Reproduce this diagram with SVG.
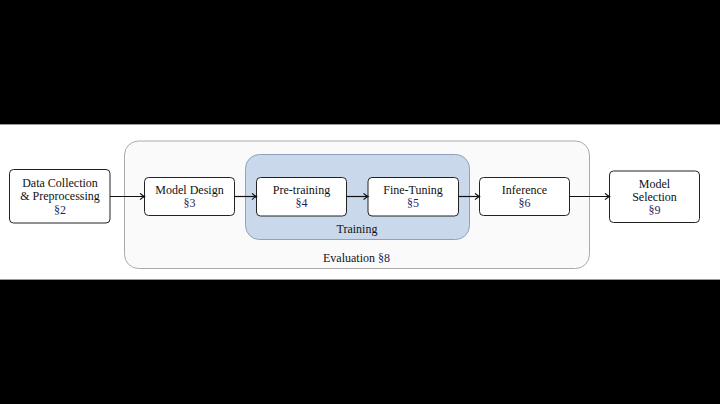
<svg xmlns="http://www.w3.org/2000/svg" width="720" height="404" viewBox="0 0 720 404">
<defs>
<style>
.node{fill:#ffffff;stroke:#222222;stroke-width:1}
.t{font-size:12px;fill:#111111;text-anchor:middle}
.ref{fill:#1f1f5c}
.conn{stroke:#111111;stroke-width:1.2;fill:none}
</style>
<marker id="arr" markerWidth="8" markerHeight="8" refX="6" refY="4" orient="auto" markerUnits="userSpaceOnUse">
<path d="M2,0.8 Q4.5,3.2 6.5,4 Q4.5,4.8 2,7.2" fill="none" stroke="#111111" stroke-width="1.1"/>
</marker>
</defs>
<rect x="0" y="0" width="720" height="404" fill="#000000"/>
<rect x="0" y="124" width="720" height="156" fill="#ffffff"/>
<line x1="0" y1="124.5" x2="720" y2="124.5" stroke="#9a9a9a" stroke-width="1"/>
<line x1="0" y1="279.5" x2="720" y2="279.5" stroke="#9a9a9a" stroke-width="1"/>
<g font-family="'Liberation Serif', 'Times New Roman', 'DejaVu Serif', serif">
<g id="evaluation">
<rect x="124.5" y="141" width="465" height="127.5" rx="14" fill="#fafafa" stroke="#aaaaaa" stroke-width="1"/>
<text class="t" x="356.5" y="262">Evaluation <tspan class="ref">§8</tspan></text>
</g>
<g id="training">
<rect x="245.5" y="154.5" width="224" height="85" rx="14" fill="#c9d9eb" stroke="#8da3bd" stroke-width="1"/>
<text class="t" x="357" y="233">Training</text>
</g>
<g id="data">
<rect class="node" x="9.5" y="169.5" width="100.5" height="53.5" rx="4"/>
<text class="t" x="60" y="187">Data Collection</text>
<text class="t" x="60" y="200.3">&amp; Preprocessing</text>
<text class="t" x="60" y="213.6"><tspan class="ref">§2</tspan></text>
</g>
<g id="design">
<rect class="node" x="144.5" y="177.5" width="90" height="38" rx="4"/>
<text class="t" x="189.5" y="194">Model Design</text>
<text class="t" x="189.5" y="207"><tspan class="ref">§3</tspan></text>
</g>
<g id="pretrain">
<rect class="node" x="256.5" y="177.5" width="90" height="38.5" rx="4"/>
<text class="t" x="301.5" y="194">Pre-training</text>
<text class="t" x="301.5" y="207"><tspan class="ref">§4</tspan></text>
</g>
<g id="finetune">
<rect class="node" x="368" y="177.5" width="90.5" height="38.5" rx="4"/>
<text class="t" x="413" y="194">Fine-Tuning</text>
<text class="t" x="413" y="207"><tspan class="ref">§5</tspan></text>
</g>
<g id="inference">
<rect class="node" x="479.5" y="177.5" width="90" height="38" rx="4"/>
<text class="t" x="524.5" y="194">Inference</text>
<text class="t" x="524.5" y="207"><tspan class="ref">§6</tspan></text>
</g>
<g id="selection">
<rect class="node" x="609.5" y="171" width="90" height="51.5" rx="4"/>
<text class="t" x="654.5" y="187.5">Model</text>
<text class="t" x="654.5" y="200.5">Selection</text>
<text class="t" x="654.5" y="213.5"><tspan class="ref">§9</tspan></text>
</g>
</g>
<g id="connectors">
<line class="conn" x1="110" y1="196.5" x2="144" y2="196.5" marker-end="url(#arr)"/>
<line class="conn" x1="234.5" y1="196.5" x2="256" y2="196.5" marker-end="url(#arr)"/>
<line class="conn" x1="346.5" y1="196.5" x2="367.5" y2="196.5" marker-end="url(#arr)"/>
<line class="conn" x1="458.5" y1="196.5" x2="479" y2="196.5" marker-end="url(#arr)"/>
<line class="conn" x1="569.5" y1="196.5" x2="609" y2="196.5" marker-end="url(#arr)"/>
</g>
</svg>
